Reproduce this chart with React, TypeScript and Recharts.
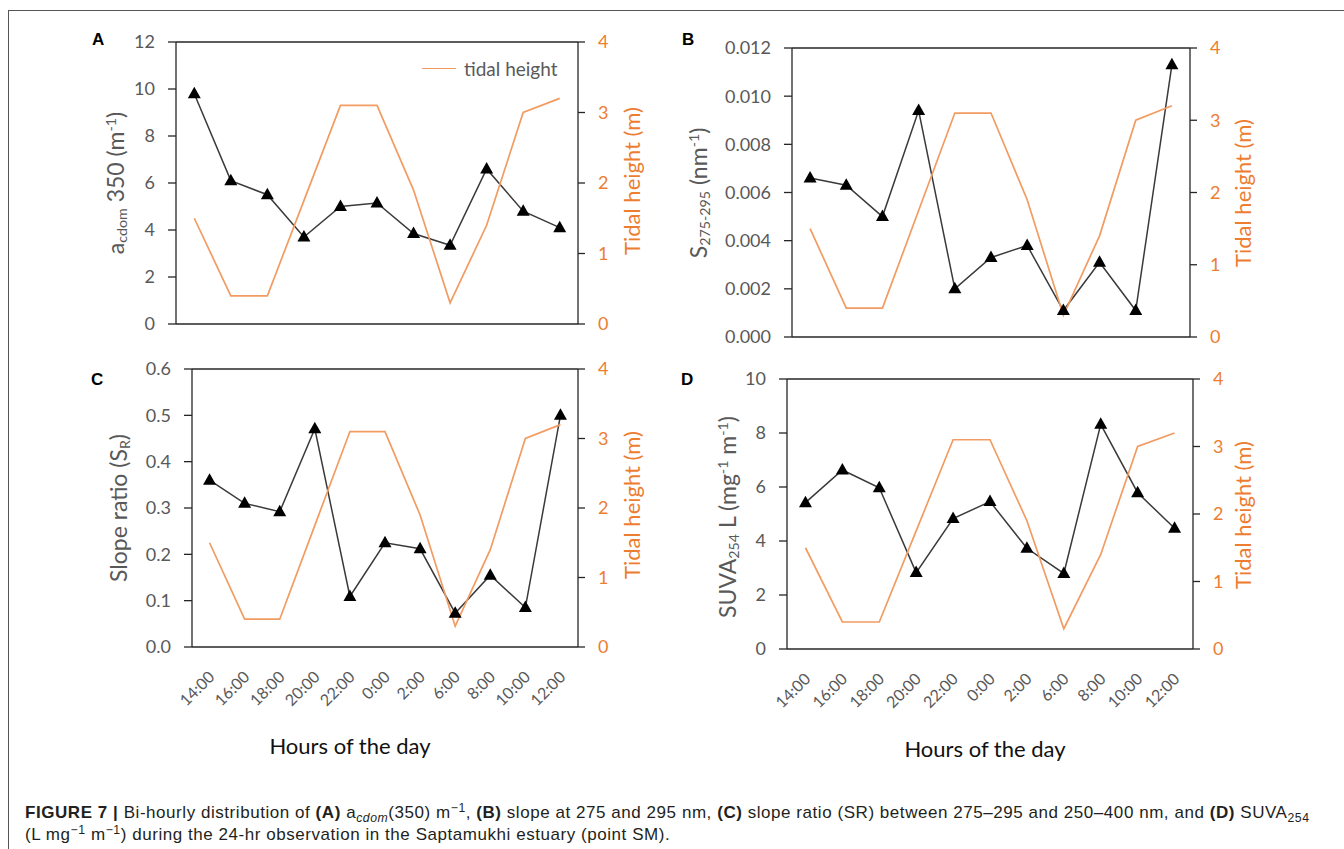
import React from "react";
import { LineChart, Line, XAxis, YAxis, ReferenceLine } from "recharts";

const hours = ["14:00", "16:00", "18:00", "20:00", "22:00", "0:00", "2:00", "6:00", "8:00", "10:00", "12:00"];
const tidalHeight = [1.5, 0.4, 0.4, 1.75, 3.1, 3.1, 1.9, 0.3, 1.4, 3.0, 3.2];
const acdom350 = [9.8, 6.1, 5.5, 3.7, 5.0, 5.15, 3.85, 3.35, 6.6, 4.8, 4.1];
const slope275295 = [0.0066, 0.0063, 0.005, 0.0094, 0.002, 0.0033, 0.0038, 0.0011, 0.0031, 0.0011, 0.0113];
const slopeRatio = [0.36, 0.31, 0.292, 0.471, 0.109, 0.225, 0.212, 0.073, 0.155, 0.085, 0.5];
const suva254 = [5.42, 6.63, 5.97, 2.83, 4.83, 5.46, 3.73, 2.8, 8.32, 5.79, 4.47];

const tidalTicks = [0, 1, 2, 3, 4];
const acdomTicks = [0, 2, 4, 6, 8, 10, 12];
const slopeTicks = [0, 0.002, 0.004, 0.006, 0.008, 0.01, 0.012];
const ratioTicks = [0, 0.1, 0.2, 0.3, 0.4, 0.5, 0.6];
const suvaTicks = [0, 2, 4, 6, 8, 10];

const GRAY = "#595959";
const ORANGE = "#ED7D31";
const TIDE_LINE = "#F29B62";
const AXIS = "#262626";
const FONT = "Lato, 'Open Sans', sans-serif";

function Triangle(props: any) {
  const { cx, cy } = props;
  if (cx == null || cy == null) return null;
  return <polygon points={`${cx},${cy - 7} ${cx - 6.5},${cy + 4.5} ${cx + 6.5},${cy + 4.5}`} fill="#000" />;
}

function HourTick(props: any) {
  const { x, y, payload } = props;
  const px = x + 6;
  const py = y + 31;
  return (
    <text
      x={px}
      y={py}
      transform={`rotate(-45 ${px} ${py})`}
      textAnchor="end"
      fill={GRAY}
      fontSize={16}
      fontFamily={FONT}
    >
      {payload.value}
    </text>
  );
}

interface PanelProps {
  left: number;
  top: number;
  width: number;
  height: number;
  plot: { l: number; t: number; r: number; b: number };
  values: number[];
  domain: [number, number];
  ticks: number[];
  format: (v: number) => string;
  showHours: boolean;
}

function Panel({ left, top, width, height, plot, values, domain, ticks, format, showHours }: PanelProps) {
  const rows = hours.map((h, i) => ({ hour: h, value: values[i], tide: tidalHeight[i] }));
  return (
    <div style={{ position: "absolute", left, top }}>
      <LineChart width={width} height={height} data={rows} margin={{ top: plot.t - top, right: 0, bottom: 0, left: 0 }}>
        <XAxis
          dataKey="hour"
          scale="band"
          height={top + height - plot.b}
          interval={0}
          tick={showHours ? <HourTick /> : false}
          tickLine={false}
          tickSize={0}
          tickMargin={0}
          axisLine={{ stroke: AXIS, strokeWidth: 1.3 }}
        />
        <YAxis
          yAxisId="l"
          width={plot.l - left}
          domain={domain}
          ticks={ticks}
          interval={0}
          tickFormatter={format}
          tickSize={8}
          tickMargin={13}
          tick={{ fill: GRAY, fontSize: 18, fontFamily: FONT }}
          axisLine={{ stroke: AXIS, strokeWidth: 1.3 }}
          tickLine={{ stroke: AXIS, strokeWidth: 1.3 }}
        />
        <YAxis
          yAxisId="r"
          orientation="right"
          width={left + width - plot.r}
          domain={[0, 4]}
          ticks={tidalTicks}
          interval={0}
          tickSize={7}
          tickMargin={13}
          tick={{ fill: ORANGE, fontSize: 18, fontFamily: FONT }}
          axisLine={{ stroke: AXIS, strokeWidth: 1.3 }}
          tickLine={{ stroke: AXIS, strokeWidth: 1.3 }}
        />
        <ReferenceLine yAxisId="l" y={domain[1]} stroke={AXIS} strokeWidth={1.3} />
        <Line
          yAxisId="l"
          dataKey="value"
          stroke="#3a3a3a"
          strokeWidth={1.5}
          dot={<Triangle />}
          activeDot={false}
          isAnimationActive={false}
        />
        <Line
          yAxisId="r"
          dataKey="tide"
          name="tidal height"
          stroke={TIDE_LINE}
          strokeWidth={1.7}
          dot={false}
          activeDot={false}
          isAnimationActive={false}
        />
      </LineChart>
    </div>
  );
}

function VTitle({ x, y, color, size, children }: { x: number; y: number; color: string; size: number; children: React.ReactNode }) {
  return (
    <div
      style={{
        position: "absolute",
        left: x,
        top: y,
        transform: "translate(-50%, -50%) rotate(-90deg)",
        whiteSpace: "nowrap",
        color,
        fontSize: size,
        fontFamily: FONT,
        lineHeight: 1,
      }}
    >
      {children}
    </div>
  );
}

function Letter({ x, y, children }: { x: number; y: number; children: React.ReactNode }) {
  return (
    <div
      style={{
        position: "absolute",
        left: x,
        top: y,
        fontFamily: "'Liberation Sans', Arial, sans-serif",
        fontWeight: 700,
        fontSize: 17,
        lineHeight: 1,
        color: "#000",
      }}
    >
      {children}
    </div>
  );
}

const sub: React.CSSProperties = { fontSize: "0.62em", verticalAlign: "-0.25em", lineHeight: 0 };
const sup: React.CSSProperties = { fontSize: "0.62em", verticalAlign: "0.55em", lineHeight: 0 };
const capSub: React.CSSProperties = { fontSize: "0.72em", verticalAlign: "-0.3em", lineHeight: 0 };
const capSup: React.CSSProperties = { fontSize: "0.72em", verticalAlign: "0.5em", lineHeight: 0 };

export default function App() {
  return (
    <div
      style={{
        position: "fixed",
        left: 0,
        top: 0,
        width: 1344,
        height: 849,
        background: "#fff",
        overflow: "hidden",
      }}
    >
      <div
        style={{
          position: "absolute",
          left: 8,
          top: 10,
          width: 1400,
          height: 900,
          border: "1px solid #555",
        }}
      />

      <Panel
        left={60}
        top={20}
        width={620}
        height={330}
        plot={{ l: 176, t: 42, r: 578, b: 324 }}
        values={acdom350}
        domain={[0, 12]}
        ticks={acdomTicks}
        format={(v) => String(v)}
        showHours={false}
      />
      <Panel
        left={680}
        top={20}
        width={560}
        height={330}
        plot={{ l: 792, t: 48, r: 1190, b: 337 }}
        values={slope275295}
        domain={[0, 0.012]}
        ticks={slopeTicks}
        format={(v) => v.toFixed(3)}
        showHours={false}
      />
      <Panel
        left={60}
        top={350}
        width={620}
        height={380}
        plot={{ l: 192, t: 369, r: 578, b: 647 }}
        values={slopeRatio}
        domain={[0, 0.6]}
        ticks={ratioTicks}
        format={(v) => v.toFixed(1)}
        showHours={true}
      />
      <Panel
        left={680}
        top={350}
        width={560}
        height={380}
        plot={{ l: 787, t: 379, r: 1193, b: 649 }}
        values={suva254}
        domain={[0, 10]}
        ticks={suvaTicks}
        format={(v) => String(v)}
        showHours={true}
      />

      {/* legend, panel A */}
      <div style={{ position: "absolute", left: 422, top: 57, display: "flex", alignItems: "center", fontFamily: FONT, fontSize: 19, color: GRAY }}>
        <span style={{ display: "inline-block", width: 34, height: 0, borderTop: `1.7px solid ${TIDE_LINE}`, marginRight: 8 }} />
        <span>tidal height</span>
      </div>

      <Letter x={92} y={31}>A</Letter>
      <Letter x={682} y={31}>B</Letter>
      <Letter x={91} y={371}>C</Letter>
      <Letter x={681} y={371}>D</Letter>

      <VTitle x={115} y={183} color={GRAY} size={23}>
        a<span style={sub}>cdom</span> 350 (m<span style={sup}>-1</span>)
      </VTitle>
      <VTitle x={698} y={193} color={GRAY} size={23}>
        S<span style={sub}>275-295</span> (nm<span style={sup}>-1</span>)
      </VTitle>
      <VTitle x={118} y={508} color={GRAY} size={23}>
        Slope ratio (S<span style={sub}>R</span>)
      </VTitle>
      <VTitle x={727} y={517} color={GRAY} size={23}>
        SUVA<span style={sub}>254</span> L (mg<span style={sup}>-1</span> m<span style={sup}>-1</span>)
      </VTitle>

      <VTitle x={632} y={181} color={ORANGE} size={22}>Tidal height (m)</VTitle>
      <VTitle x={1243} y={193} color={ORANGE} size={22}>Tidal height (m)</VTitle>
      <VTitle x={632} y={505} color={ORANGE} size={22}>Tidal height (m)</VTitle>
      <VTitle x={1243} y={515} color={ORANGE} size={22}>Tidal height (m)</VTitle>

      <div style={{ position: "absolute", left: 350, top: 745, transform: "translate(-50%, -50%)", fontFamily: FONT, fontSize: 22, color: "#111", whiteSpace: "nowrap" }}>
        Hours of the day
      </div>
      <div style={{ position: "absolute", left: 985, top: 748, transform: "translate(-50%, -50%)", fontFamily: FONT, fontSize: 22, color: "#111", whiteSpace: "nowrap" }}>
        Hours of the day
      </div>

      <div
        style={{
          position: "absolute",
          left: 25,
          top: 802,
          fontFamily: "'Liberation Sans', Arial, sans-serif",
          fontSize: 17,
          letterSpacing: 0.55,
          color: "#231f20",
          lineHeight: "22px",
          whiteSpace: "nowrap",
        }}
      >
        <div>
          <b>FIGURE 7 |</b> Bi-hourly distribution of <b>(A)</b> a<span style={capSub}><i>cdom</i></span>(350) m
          <span style={capSup}>−1</span>, <b>(B)</b> slope at 275 and 295 nm, <b>(C)</b> slope ratio (SR) between 275–295
          and 250–400 nm, and <b>(D)</b> SUVA<span style={capSub}>254</span>
        </div>
        <div>
          (L mg<span style={capSup}>−1</span> m<span style={capSup}>−1</span>) during the 24-hr observation in the Saptamukhi
          estuary (point SM).
        </div>
      </div>
    </div>
  );
}
